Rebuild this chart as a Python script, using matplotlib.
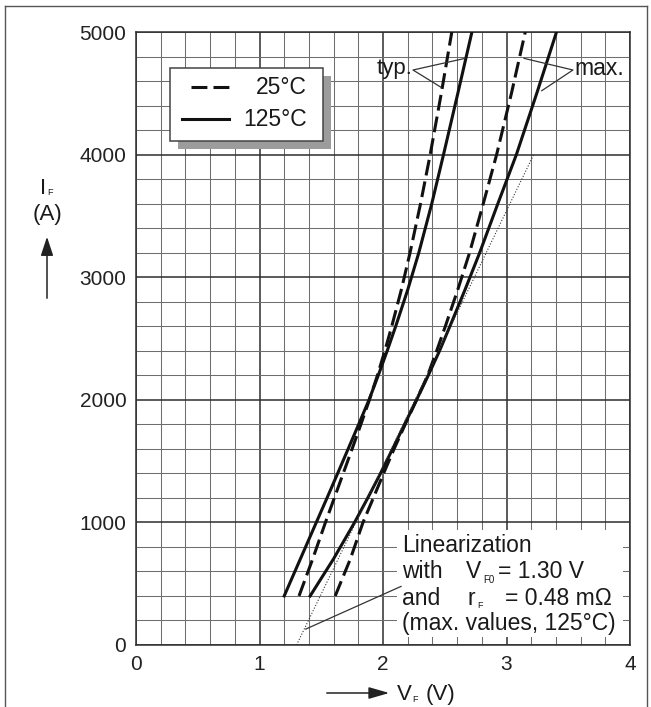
import numpy as np
import matplotlib.pyplot as plt
from matplotlib.patches import Rectangle, FancyArrowPatch
from matplotlib.lines import Line2D
from matplotlib.ticker import MultipleLocator

plt.rcParams['font.family'] = ['Liberation Sans', 'DejaVu Sans']

# forward characteristic I_F = f(V_F)
i_f = [400, 700, 1000, 1200, 1400, 1600, 1800, 2000, 2200, 2400, 2600, 2900, 3200, 3600, 4000, 4500, 5000]
vf_typ_25 = [1.32, 1.43, 1.534, 1.606, 1.678, 1.75, 1.821, 1.89, 1.955, 2.015, 2.071, 2.149, 2.219, 2.304, 2.382, 2.472, 2.557]
vf_typ_125 = [1.20, 1.33, 1.46, 1.547, 1.633, 1.718, 1.803, 1.887, 1.962, 2.034, 2.103, 2.201, 2.29, 2.395, 2.49, 2.606, 2.72]
vf_max_25 = [1.613, 1.735, 1.838, 1.922, 2.005, 2.09, 2.18, 2.272, 2.362, 2.435, 2.505, 2.606, 2.701, 2.812, 2.92, 3.04, 3.152]
vf_max_125 = [1.41, 1.598, 1.77, 1.877, 1.98, 2.078, 2.175, 2.272, 2.367, 2.458, 2.542, 2.665, 2.783, 2.93, 3.08, 3.245, 3.405]

# linearization (max values, 125 C)
v_f0 = 1.30     # V
r_f = 0.48e-3   # Ohm
lin_i = np.array([0, 4000])
lin_v = v_f0 + r_f * lin_i

W, H = 651, 707
fig = plt.figure(figsize=(W / 100, H / 100), dpi=100)


def P(px, py):      # picture pixels -> figure fraction
    return px / W, 1 - py / H


ax = fig.add_axes([136 / W, 1 - 645 / H, 494 / W, 613 / H])
ax.set_xlim(0, 4)
ax.set_ylim(0, 5000)
ax.xaxis.set_major_locator(MultipleLocator(1))
ax.xaxis.set_minor_locator(MultipleLocator(0.2))
ax.yaxis.set_major_locator(MultipleLocator(1000))
ax.yaxis.set_minor_locator(MultipleLocator(200))
ax.set_axisbelow(True)
ax.grid(which='major', color='#2e2e2e', lw=1.1)
ax.grid(which='minor', color='#6e6e6e', lw=0.75)
ax.tick_params(which='both', length=0, labelsize=15, labelcolor='#222222')
ax.tick_params(axis='y', pad=7)
ax.tick_params(axis='x', pad=7)
for s in ax.spines.values():
    s.set_color('#2e2e2e')
    s.set_linewidth(1.1)

dash = (0, (5.2, 2.0))
ax.plot(vf_typ_25, i_f, color='#111111', lw=2.2, ls=dash, zorder=3)
ax.plot(vf_max_25, i_f, color='#111111', lw=2.2, ls=dash, zorder=3)
ax.plot(vf_typ_125, i_f, color='#111111', lw=2.2, zorder=3)
ax.plot(vf_max_125, i_f, color='#111111', lw=2.2, zorder=3)
ax.plot(lin_v, lin_i, color='#333333', lw=0.8, ls=(0, (1, 1.6)), zorder=3)

# typ. / max. pointers
ax.plot([2.664, 2.243, 2.470], [4785, 4690, 4549], color='#333333', lw=0.9, zorder=4)
ax.plot([3.142, 3.538, 3.285], [4785, 4690, 4521], color='#333333', lw=0.9, zorder=4)
ax.text(2.235, 4700, 'typ.', ha='right', va='center', fontsize=16, color='#1a1a1a', zorder=5)
ax.text(3.55, 4700, 'max.', ha='left', va='center', fontsize=16.5, color='#1a1a1a', zorder=5)

# linearization note
ax.add_patch(Rectangle((2.11, 68), 1.83, 872, facecolor='white', edgecolor='none', zorder=2))
ax.plot([1.375, 2.146], [130, 478], color='#333333', lw=0.9, zorder=4)
tk = dict(fontsize=16.5, color='#1a1a1a', va='baseline', zorder=5)
ax.text(2.151, 761, 'Linearization', **tk)
ax.text(2.151, 544, 'with', **tk)
ax.text(2.672, 544, 'V', **tk)
ax.text(2.81, 506, 'F0', fontsize=7, color='#1a1a1a', va='baseline', zorder=5)
ax.text(2.935, 544, '= 1.30 V', **tk)
ax.text(2.151, 326, 'and', **tk)
ax.text(2.688, 326, 'r', **tk)
ax.text(2.76, 300, 'F', fontsize=6.5, color='#1a1a1a', va='baseline', zorder=5)
ax.text(2.988, 326, '= 0.48 m\u03a9', **tk)
ax.text(2.151, 122, '(max. values, 125\u00b0C)', **tk)

# legend with drop shadow
fig.add_artist(Rectangle(P(178, 149), 152.7 / W, 72.7 / H, transform=fig.transFigure,
                         facecolor='#9c9c9c', edgecolor='none', zorder=6))
fig.add_artist(Rectangle(P(170, 141), 152.7 / W, 72.7 / H, transform=fig.transFigure,
                         facecolor='white', edgecolor='#444444', lw=1.1, zorder=7))
x0, y0 = P(191, 86.7)
x1, _ = P(229.3, 86.7)
fig.add_artist(Line2D([x0, x1], [y0, y0], transform=fig.transFigure, color='#111111',
                      lw=2.2, ls=dash, zorder=8))
x0, y1 = P(181.7, 119.3)
fig.add_artist(Line2D([x0, x1], [y1, y1], transform=fig.transFigure, color='#111111',
                      lw=2.2, zorder=8))
fig.text(*P(306.7, 87), '25\u00b0C', ha='right', va='center', fontsize=16.5, color='#1a1a1a', zorder=8)
fig.text(*P(306.7, 119.3), '125\u00b0C', ha='right', va='center', fontsize=16.5, color='#1a1a1a', zorder=8)

# axis labels with arrows
fig.text(*P(43, 194), 'I', ha='center', va='baseline', fontsize=16, color='#1a1a1a')
fig.text(*P(47, 195), 'F', ha='left', va='baseline', fontsize=6.5, color='#1a1a1a')
fig.text(*P(47, 215), '(A)', ha='center', va='center', fontsize=16, color='#1a1a1a')
fig.add_artist(FancyArrowPatch(P(47, 301), P(47, 234), transform=fig.transFigure,
                               arrowstyle='-|>,head_length=1.15,head_width=0.38', mutation_scale=10,
                               color='#222222', lw=1.1))
fig.add_artist(FancyArrowPatch(P(324, 693), P(392, 693), transform=fig.transFigure,
                               arrowstyle='-|>,head_length=1.25,head_width=0.36', mutation_scale=10,
                               color='#222222', lw=1.1))
fig.text(*P(404, 700), 'V', ha='center', va='baseline', fontsize=16, color='#1a1a1a')
fig.text(*P(412, 702), 'F', ha='left', va='baseline', fontsize=6.5, color='#1a1a1a')
fig.text(*P(426, 700), '(V)', ha='left', va='baseline', fontsize=16, color='#1a1a1a')

# outer frame
fr = dict(transform=fig.transFigure, color='#555555', lw=1.0)
fig.add_artist(Line2D([5 / W, 5 / W], [0, 1 - 6 / H], **fr))
fig.add_artist(Line2D([5 / W, 647 / W], [1 - 6 / H, 1 - 6 / H], **fr))
fig.add_artist(Line2D([647 / W, 647 / W], [0, 1 - 6 / H], **fr))

fig.savefig('out.png', dpi=100)
